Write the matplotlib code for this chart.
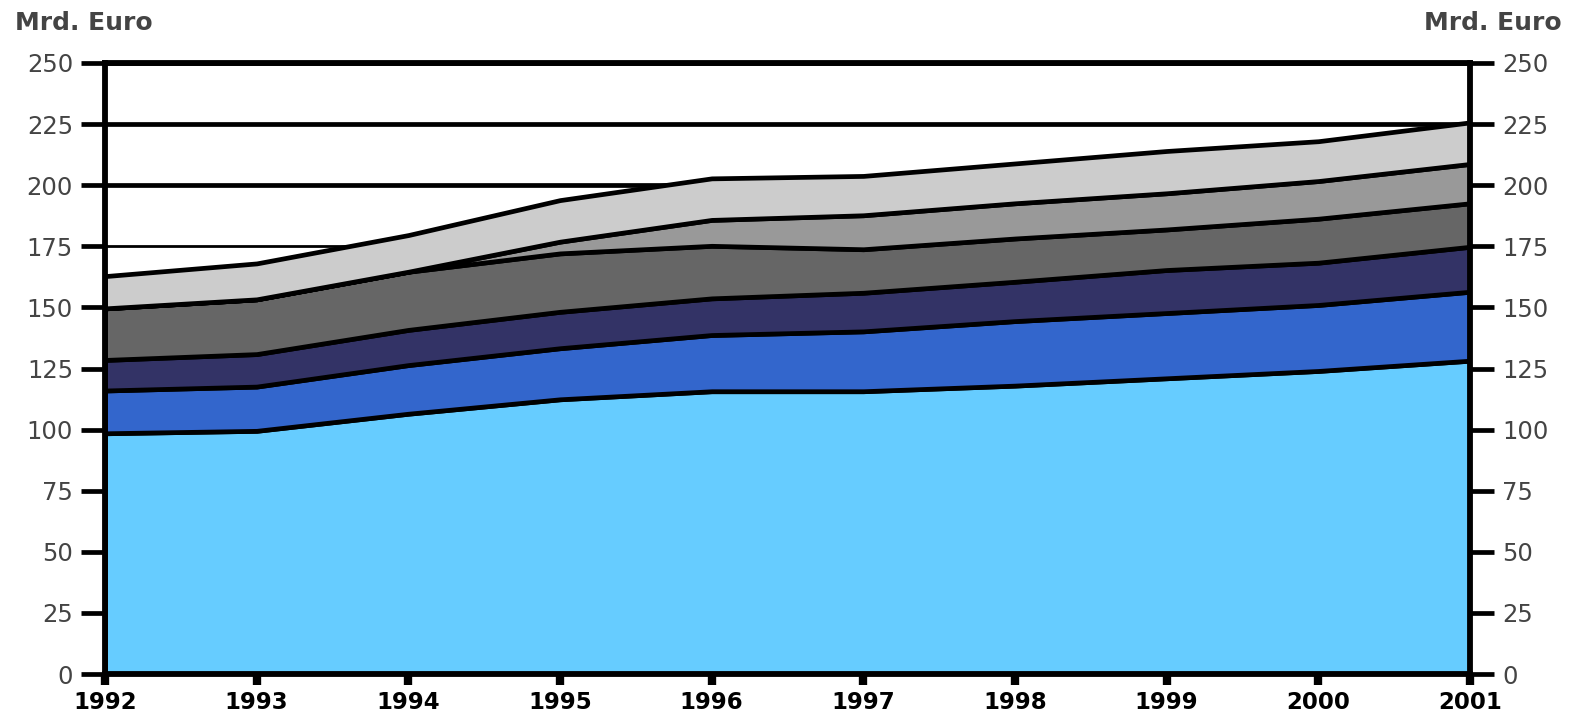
import matplotlib
matplotlib.use("Agg")
import matplotlib.pyplot as plt
import numpy as np

# Years on the horizontal axis
years = [1992, 1993, 1994, 1995, 1996, 1997, 1998, 1999, 2000, 2001]

# Stacked components (Mrd. Euro), bottom to top
series_1 = [98.5, 99.5, 106.5, 112.4, 115.7, 115.7, 118.0, 121.0, 124.0, 128.2]
series_2 = [17.5, 18.1, 19.9, 20.9, 23.0, 24.5, 26.4, 26.7, 27.0, 28.2]
series_3 = [12.5, 13.3, 14.4, 14.9, 15.0, 15.8, 16.1, 17.6, 17.3, 18.4]
series_4 = [21.1, 22.4, 23.8, 23.9, 21.5, 17.8, 17.7, 16.6, 18.0, 17.8]
series_5 = [0.0, 0.0, 0.0, 4.8, 10.6, 13.9, 14.4, 14.8, 15.4, 16.1]
series_6 = [13.2, 14.7, 15.0, 17.0, 17.0, 16.1, 16.3, 17.3, 16.3, 17.0]

y_ticks = [0, 25, 50, 75, 100, 125, 150, 175, 200, 225, 250]
unit_label = "Mrd. Euro"

colors = ["#66CCFF", "#3366CC", "#333366", "#666666", "#999999", "#CCCCCC"]

fig = plt.figure(figsize=(15.72, 7.16), dpi=100)
ax = fig.add_axes([105 / 1572, 1 - 674 / 716, (1470 - 105) / 1572, (674 - 63) / 716])

# horizontal grid lines behind the areas
for yv in y_ticks[1:]:
    ax.axhline(yv, color="black", lw=2.0 if yv == 175 else 3.4, zorder=0)

ax.stackplot(years, series_1, series_2, series_3, series_4, series_5, series_6,
             colors=colors, edgecolor="black", linewidth=3.4, zorder=2)

ax.set_xlim(years[0], years[-1])
ax.set_ylim(0, 250)
ax.set_xticks(years)
ax.set_xticklabels([str(y) for y in years])
ax.set_yticks(y_ticks)
ax.set_yticklabels([str(v) for v in y_ticks])

for side in ["left", "right", "bottom", "top"]:
    ax.spines[side].set_linewidth(4.2)
    ax.spines[side].set_color("black")
    ax.spines[side].set_zorder(5)

ax.tick_params(axis="y", which="both", direction="out", length=17, width=3.4,
               left=True, right=True, labelleft=True, labelright=True,
               pad=6, labelsize=17.5, labelcolor="#444444")
ax.tick_params(axis="x", direction="out", length=8, width=6, pad=4,
               labelsize=16.5, labelcolor="black")
for lbl in ax.get_xticklabels():
    lbl.set_fontweight("bold")

fig.text(15 / 1572, 1 - 23 / 716, unit_label, ha="left", va="center",
         fontsize=18, fontweight="bold", color="#444444")
fig.text(1562 / 1572, 1 - 23 / 716, unit_label, ha="right", va="center",
         fontsize=18, fontweight="bold", color="#444444")

fig.savefig("out.png", dpi=100)
